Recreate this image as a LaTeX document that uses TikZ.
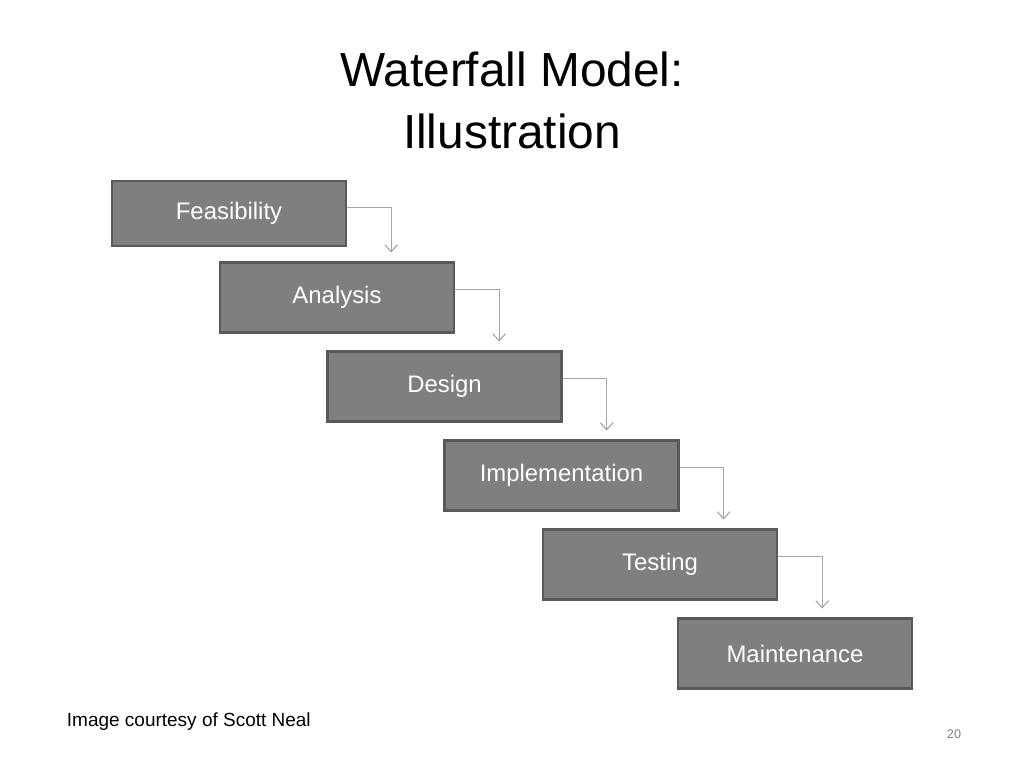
\documentclass[tikz,border=0pt]{standalone}
\usepackage{fontspec}
\setmainfont{Liberation Sans}
\definecolor{boxfill}{HTML}{7F7F7F}
\definecolor{boxline}{HTML}{595959}
\definecolor{flowline}{HTML}{A6A6A6}
\tikzset{
  phase/.style={draw=boxline, line width=1.6pt, fill=boxfill, text=white,
    minimum width=5.85cm, minimum height=1.75cm, inner sep=0pt,
    font=\fontsize{17}{20}\selectfont},
  flow/.style={draw=flowline, line width=0.8pt, -{Straight Barb[length=5pt,width=9pt]}}
}
\usetikzlibrary{arrows.meta}
\begin{document}
\begin{tikzpicture}[x=0.025cm,y=-0.025cm]
\useasboundingbox (0,0) rectangle (1024,768);
\node (title) at (512,100) [align=center, font=\fontsize{34}{44}\selectfont] {Waterfall Model:\\Illustration};
\node[phase, minimum height=1.63cm] (feas) at (229,213.5) {Feasibility};
\node[phase] (anal) at (337,297.5) {Analysis};
\node[phase] (desg) at (444.5,386.5) {Design};
\node[phase] (impl) at (561.5,475.5) {Implementation};
\node[phase] (test) at (660,564.5) {Testing};
\node[phase] (main) at (795,653.5) {Maintenance};
% flow connectors
\foreach \a/\b in {feas/anal,anal/desg,desg/impl,impl/test,test/main}{
  \coordinate (s\a) at ([yshift=-0.7cm]\a.north east);
  \coordinate (c\a) at ([xshift=1.1cm]s\a);
  \coordinate (e\a) at ([yshift=0.22cm]\b.north);
  \draw[flow] (s\a) -- (c\a) -- (c\a |- e\a);
}
\node (credit) at (62,722) [anchor=west, font=\fontsize{13.5}{16}\selectfont] {Image courtesy of Scott Neal};
\node (pageno) at (954,734) [text=gray, font=\fontsize{9}{11}\selectfont] {20};
\end{tikzpicture}
\end{document}
